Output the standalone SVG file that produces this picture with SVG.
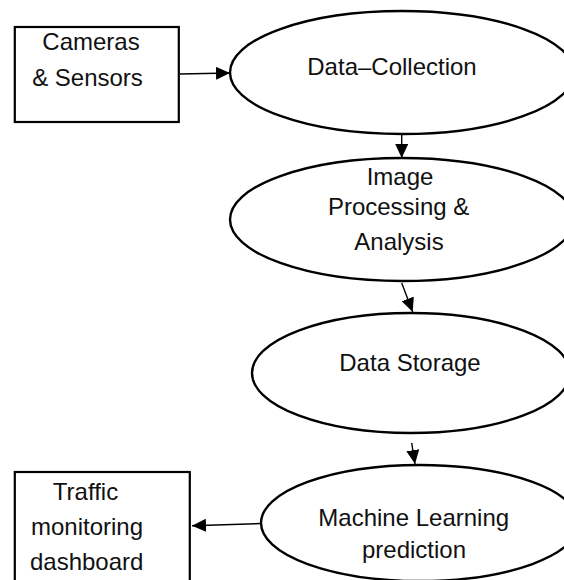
<svg xmlns="http://www.w3.org/2000/svg" width="564" height="580" viewBox="0 0 564 580">
<style>
.box{fill:#fff;stroke:#000;stroke-width:2.2}
.ell{fill:#fff;stroke:#000;stroke-width:2.4}
.lbl{font-family:"Liberation Sans",Arial,sans-serif;font-size:24px;fill:#111;text-anchor:middle}
.con{stroke:#000;stroke-width:1.4;fill:none;marker-end:url(#ah)}
</style>
<defs>
<marker id="ah" markerUnits="userSpaceOnUse" markerWidth="14" markerHeight="13" refX="14" refY="6.5" orient="auto">
<path d="M0,0 L14,6.5 L0,13 Z" fill="#000"/>
</marker>
</defs>
<rect width="564" height="580" fill="#fff"/>
<g id="cameras">
<rect class="box" x="14.8" y="27" width="164" height="95"/>
<text class="lbl" x="91" y="50">Cameras</text>
<text class="lbl" x="87.5" y="86">&amp; Sensors</text>
</g>
<g id="data-collection">
<ellipse class="ell" cx="402" cy="72.5" rx="172" ry="61.5"/>
<text class="lbl" x="392" y="75">Data–Collection</text>
</g>
<g id="image-processing">
<ellipse class="ell" cx="402" cy="219.5" rx="172" ry="61.5"/>
<text class="lbl" x="400" y="185">Image</text>
<text class="lbl" x="398.6" y="215">Processing &amp;</text>
<text class="lbl" x="399" y="250">Analysis</text>
</g>
<g id="data-storage">
<ellipse class="ell" cx="411" cy="373" rx="159" ry="60"/>
<text class="lbl" x="410" y="371">Data Storage</text>
</g>
<g id="machine-learning">
<ellipse class="ell" cx="420" cy="523" rx="159" ry="58"/>
<text class="lbl" x="413.7" y="526">Machine Learning</text>
<text class="lbl" x="414" y="558">prediction</text>
</g>
<g id="dashboard">
<rect class="box" x="14.8" y="472" width="175" height="120"/>
<text class="lbl" x="85.5" y="500">Traffic</text>
<text class="lbl" x="87" y="535">monitoring</text>
<text class="lbl" x="86.7" y="570">dashboard</text>
</g>
<g id="connectors">
<line class="con" x1="180" y1="74" x2="230" y2="73"/>
<line class="con" x1="401.7" y1="134" x2="401.7" y2="158"/>
<line class="con" x1="401.7" y1="283" x2="412.7" y2="312"/>
<line class="con" x1="411.7" y1="443" x2="415" y2="464"/>
<line class="con" x1="261.7" y1="523.5" x2="192" y2="525.7"/>
</g>
</svg>
